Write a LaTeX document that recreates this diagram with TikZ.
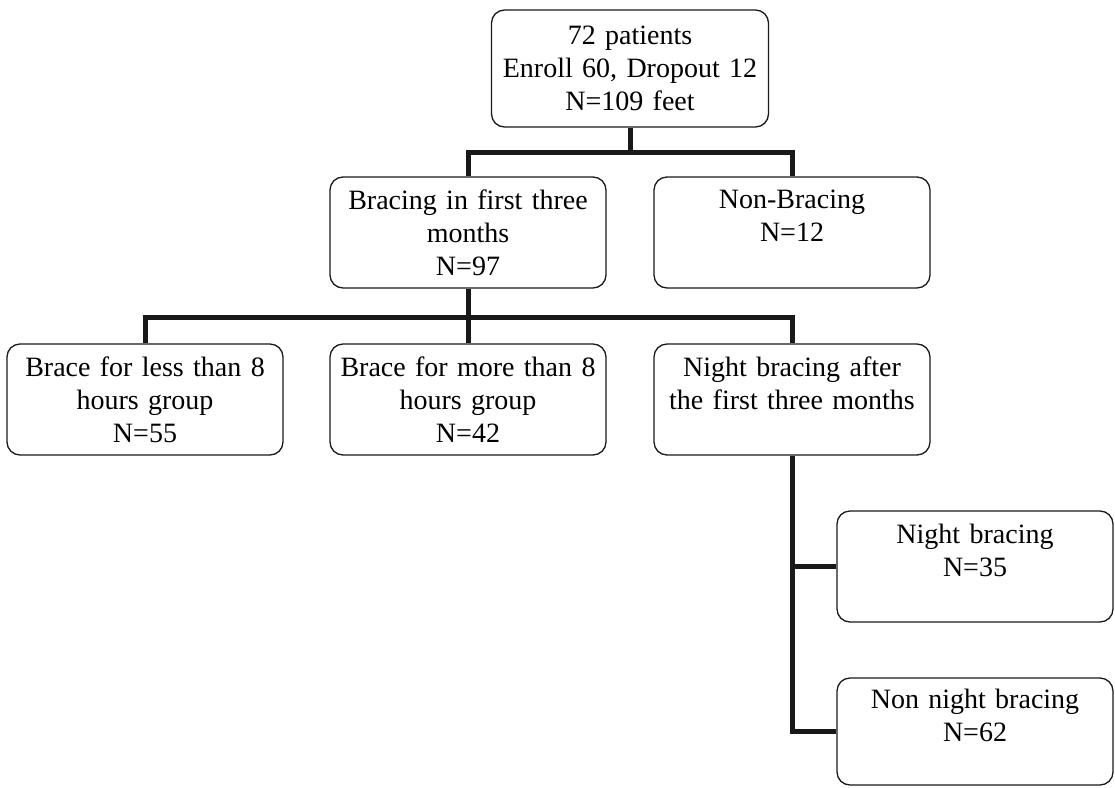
\documentclass[tikz,border=0pt]{standalone}
\usepackage{fontspec}
\setmainfont{Liberation Serif}
\usetikzlibrary{positioning}

\tikzset{
  box/.style={draw=black!90, line width=1.3pt, rounded corners=13pt, minimum width=276pt,
    minimum height=111pt, text width=270pt, align=center, inner sep=0pt,
    font=\fontsize{28}{33}\selectfont},
  conn/.style={draw=black!90, line width=5pt, line join=miter}
}

\begin{document}
\begin{tikzpicture}[x=1pt, y=-1pt]
\useasboundingbox (0,0) rectangle (1115,787);

\def\colA{145}
\def\colB{468}
\def\colC{792}

\node[box, minimum width=277pt, minimum height=117pt] (total) at (630,68.5) {72 patients\\Enroll 60, Dropout 12\\N=109 feet};

\node[box] (bracing) at (\colB,232.5) {Bracing in first three\\months\\N=97};
\node[box] (nonbracing) at (\colC,232.5) {Non-Bracing\\N=12\\~};

\node[box] (less) at (\colA,399.5) {Brace for less than 8\\hours group\\N=55};
\node[box] (more) at (\colB,399.5) {Brace for more than 8\\hours group\\N=42};
\node[box] (nightafter) at (\colC,399.5) {Night bracing after\\the first three months\\~};

\node[box] (night) at (975,566.5) {Night bracing\\N=35\\~};
\node[box, minimum height=107pt] (nonnight) at (975,731.5) {Non night bracing\\N=62\\~};

% first split
\coordinate (j1) at (630,152);
\draw[conn] (total.south) -- (j1);
\draw[conn] (bracing.north) |- (j1) -| (nonbracing.north);

% second split
\coordinate (j2) at (\colB,317);
\draw[conn] (bracing.south) -- (j2) -- (more.north);
\draw[conn] (less.north) |- (j2) -| (nightafter.north);

% night bracing branch
\draw[conn] (nightafter.south) |- (nonnight.west);
\draw[conn] (night.west) -- (night.west -| nightafter.south);
\end{tikzpicture}
\end{document}
